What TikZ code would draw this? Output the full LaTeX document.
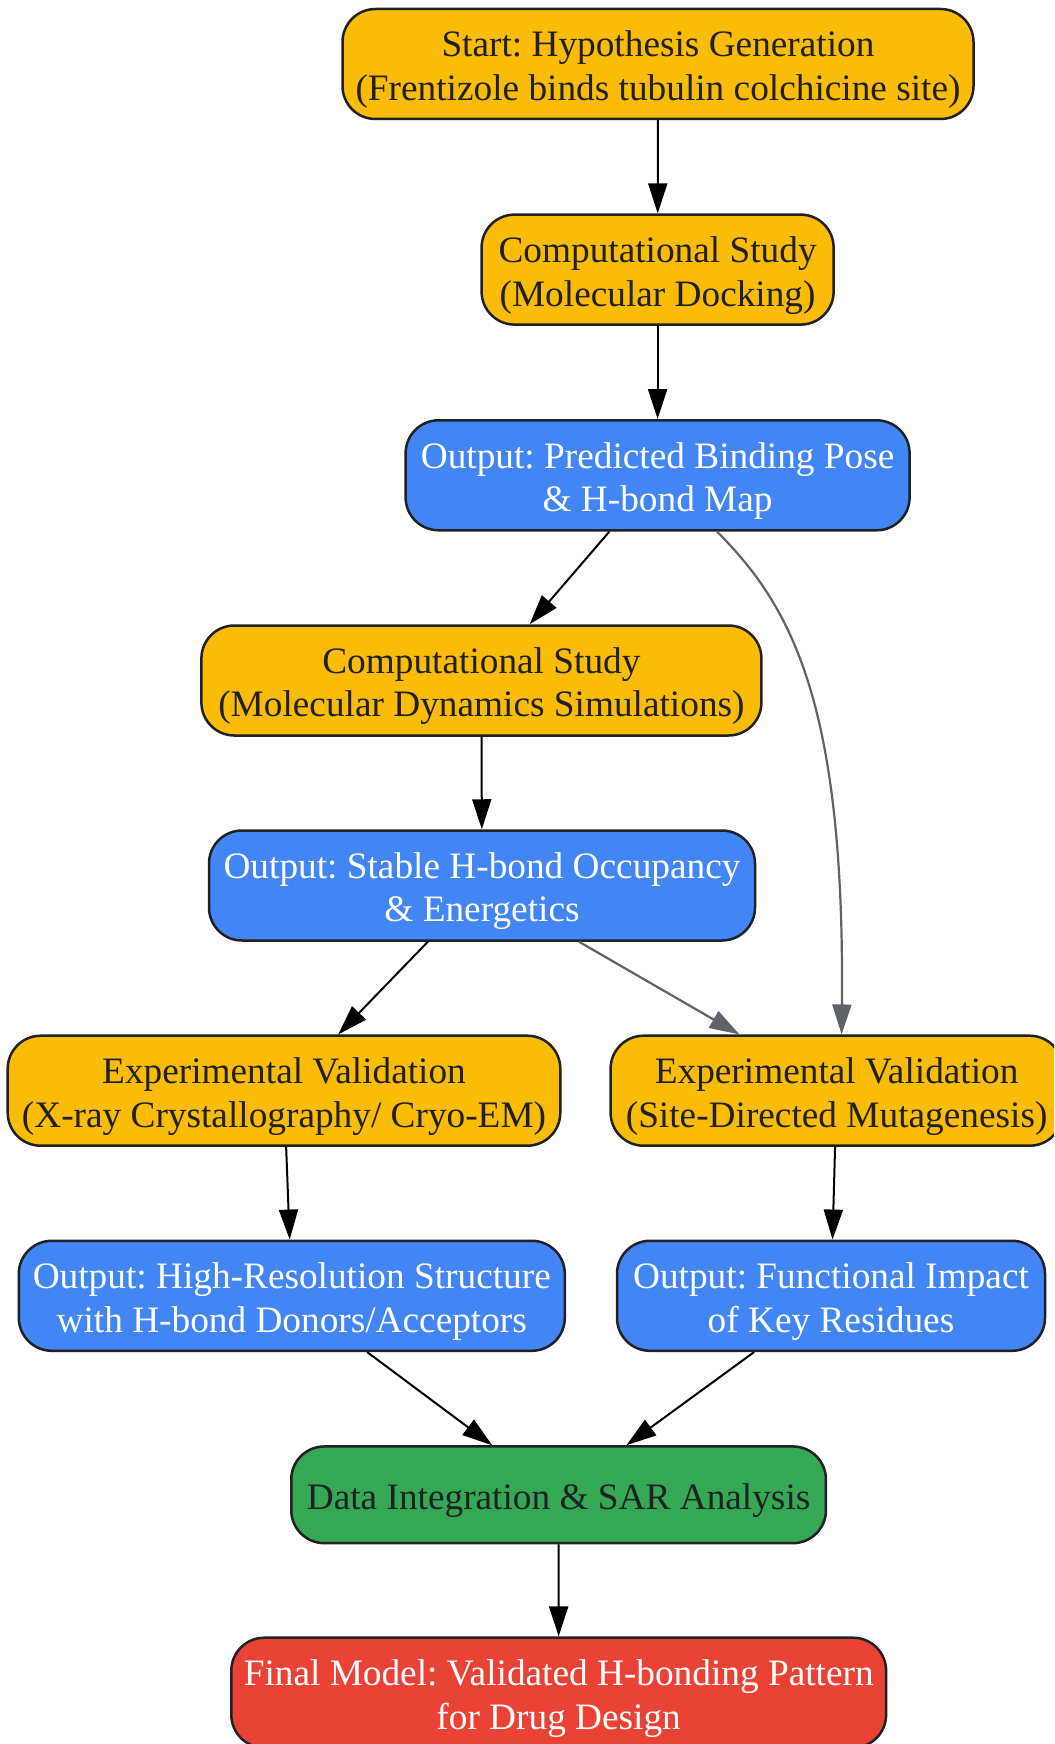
\documentclass[tikz,border=0pt]{standalone}
\usepackage{fontspec}
\setmainfont{Liberation Serif}
\usetikzlibrary{arrows.meta}
\definecolor{gyellow}{HTML}{FBBC05}
\definecolor{gblue}{HTML}{4285F4}
\definecolor{ggreen}{HTML}{34A853}
\definecolor{gred}{HTML}{EA4335}
\definecolor{textdark}{HTML}{202124}
\definecolor{bordercol}{HTML}{202124}
\definecolor{ggray}{HTML}{5F6368}
\newcommand{\lbl}[1]{\raisebox{-6pt}[\height][\depth]{\begin{tabular}{@{}c@{}}#1\end{tabular}}}
\frenchspacing
\begin{document}
\begin{tikzpicture}[x=1pt,y=-1pt,
  box/.style={draw=bordercol, line width=2.5pt, rounded corners=33pt,
    minimum height=110pt, inner sep=0pt, align=center,
    font=\fontsize{37.3}{43.5}\selectfont\frenchspacing},
  ybox/.style={box, fill=gyellow, text=textdark},
  bbox/.style={box, fill=gblue, text=white},
  gbox/.style={box, fill=ggreen, text=textdark},
  rbox/.style={box, fill=gred, text=white},
  arr/.style={line width=2pt, draw=black, -{Triangle[length=30pt,width=19pt]}},
  garr/.style={line width=2.2pt, draw=ggray, -{Triangle[length=30pt,width=19pt]}}]
\useasboundingbox (0,0) rectangle (1054,1744);
\fill[white] (0,0) rectangle (1054,1744);
\clip (0,0) rectangle (1054,1744);

\node[ybox, minimum width=631pt] (n1) at (658,64) {\lbl{Start: Hypothesis Generation\\(Frentizole binds tubulin colchicine site)}};
\node[ybox, minimum width=352pt] (n2) at (657.6,269.6) {\lbl{Computational Study\\(Molecular Docking)}};
\node[bbox, minimum width=504pt] (n3) at (657.6,475.3) {\lbl{Output: Predicted Binding Pose\\\& H-bond Map}};
\node[ybox, minimum width=560pt] (n4) at (481.4,680.5) {\lbl{Computational Study\\(Molecular Dynamics Simulations)}};
\node[bbox, minimum width=546pt] (n5) at (482,885.5) {\lbl{Output: Stable H-bond Occupancy\\\& Energetics}};
\node[ybox, minimum width=552.6pt] (n6) at (284,1090.7) {\lbl{Experimental Validation\\(X-ray Crystallography/ Cryo-EM)}};
\node[ybox, minimum width=452pt] (n7) at (836.6,1090.7) {\lbl{Experimental Validation\\(Site-Directed Mutagenesis)}};
\node[bbox, minimum width=546pt] (n8) at (291.8,1295.8) {\lbl{Output: High-Resolution Structure\\with H-bond Donors/Acceptors}};
\node[bbox, minimum width=428pt] (n9) at (831,1295.8) {\lbl{Output: Functional Impact\\of Key Residues}};
\node[gbox, minimum width=534.7pt, minimum height=96.7pt] (n10) at (558.6,1494.8) {\lbl{Data Integration \& SAR Analysis}};
\node[rbox, minimum width=654.8pt] (n11) at (558.7,1692.7) {\lbl{Final Model: Validated H-bonding Pattern\\for Drug Design}};

\draw[arr] (n1) -- (n2);
\draw[arr] (n2) -- (n3);
\draw[arr] (n3) -- (n4);
\draw[garr] ([xshift=59.4pt]n3.south) .. controls (790,605) and (845,700) .. ([xshift=5pt]n7.north);
\draw[arr] (n4) -- (n5);
\draw[arr] (n5) -- (n6);
\draw[garr] (n5) -- (n7);
\draw[arr] (n6) -- (n8);
\draw[arr] (n7) -- (n9);
\draw[arr] (n8) -- (n10);
\draw[arr] (n9) -- (n10);
\draw[arr] (n10) -- (n11);
\end{tikzpicture}
\end{document}
